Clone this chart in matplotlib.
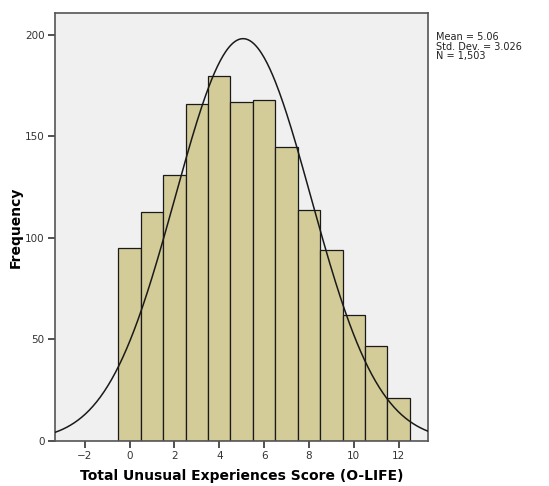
import numpy as np
import matplotlib
matplotlib.use("Agg")
import matplotlib.pyplot as plt

scores = [0, 1, 2, 3, 4, 5, 6, 7, 8, 9, 10, 11, 12]
freqs = [95, 113, 131, 166, 180, 167, 168, 145, 114, 94, 62, 47, 21]
mean = 5.06
sd = 3.026
n = 1503
xticks = [-2, 0, 2, 4, 6, 8, 10, 12]
yticks = [0, 50, 100, 150, 200]

plt.rcParams['font.family'] = ['DejaVu Sans']

fig = plt.figure(figsize=(5.49, 4.86), dpi=100)
ax = fig.add_axes([0.0993, 0.0926, 0.6803, 0.8807])
ax.set_facecolor('#f0f0f0')

ax.bar(scores, freqs, width=1.0, color='#d3cb98', edgecolor='#1a1a1a', linewidth=0.9, zorder=2)

xs = np.linspace(-3.35, 13.31, 400)
ys = n * 1.0 / (sd * np.sqrt(2 * np.pi)) * np.exp(-0.5 * ((xs - mean) / sd) ** 2)
ax.plot(xs, ys, color='#1a1a1a', linewidth=1.1, zorder=3)

ax.set_xlim(-3.35, 13.31)
ax.set_ylim(0, 210.8)
ax.set_xticks(xticks)
ax.set_yticks(yticks)
ax.tick_params(direction='out', length=5, width=1.2, colors='#333333', labelsize=7.5, pad=2)
for s in ax.spines.values():
    s.set_color('#555555')
    s.set_linewidth(1.2)

ax.set_xlabel('Total Unusual Experiences Score (O-LIFE)', fontsize=10, fontweight='bold', labelpad=6)
ax.set_ylabel('Frequency', fontsize=10, fontweight='bold', labelpad=2)

fig.text(436 / 549, 1 - 32 / 486, 'Mean = 5.06\nStd. Dev. = 3.026\nN = 1,503',
         fontsize=7, va='top', ha='left', linespacing=0.95, color='#222222')

fig.savefig('out.png', dpi=100)
